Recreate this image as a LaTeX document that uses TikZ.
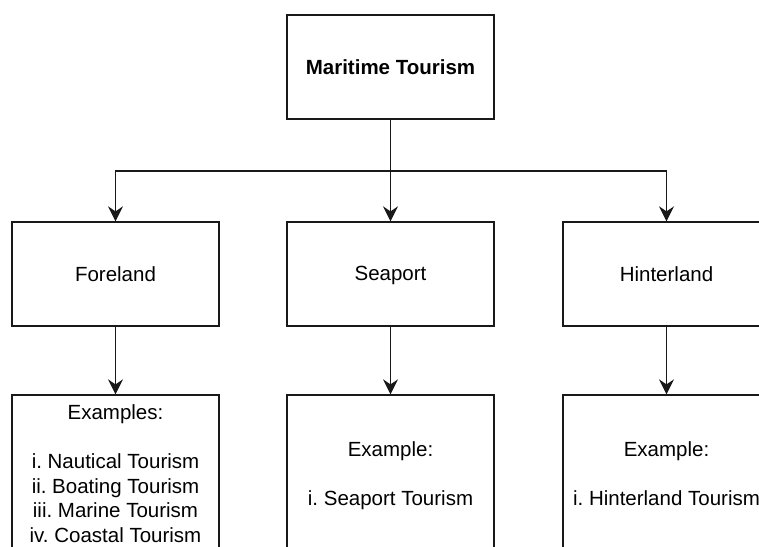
\documentclass[tikz,border=0pt]{standalone}
\usepackage{fontspec}
\setmainfont{Liberation Sans}
\usetikzlibrary{arrows.meta}
\frenchspacing
% fixed first-line height and last-line depth for the example lists
\newcommand{\toprow}{\rule{0pt}{24pt}}
\newcommand{\lastrow}{\rule[-7pt]{0pt}{7pt}}
\begin{document}
\begin{tikzpicture}[x=1pt,y=-1pt,
  box/.style={draw=black!90,line width=1.3pt,minimum width=207pt,inner sep=0pt,align=center,
    font=\fontsize{20.5}{24.6}\selectfont},
  headbox/.style={box,minimum height=104pt},
  listbox/.style={box,minimum height=155pt},
  link/.style={draw=black!90,line width=1.3pt,-{Stealth[length=15pt,width=15pt,inset=5pt]}}]
\clip (0,0) rectangle (759,546);
\useasboundingbox (0,0) rectangle (759,546);

% top level
\node[headbox,font=\fontsize{20.5}{24.6}\selectfont\bfseries] (top) at (390.5,67) {Maritime Tourism};

% second level
\node[headbox] (fore) at (115.5,274) {Foreland};
\node[headbox,text depth=0.22em] (sea)  at (390.5,274) {Seaport};
\node[headbox] (hint) at (666.5,274) {Hinterland};

% examples
\node[listbox] (forex) at (115.5,472.5) {\toprow Examples:\\[24.6pt]i. Nautical Tourism\\ii. Boating Tourism\\iii. Marine Tourism\\iv. Coastal Tourism\lastrow};
\node[listbox] (seaex) at (390.5,472.5) {\toprow Example:\\[24.6pt]i. Seaport Tourism\lastrow};
\node[listbox] (hintex) at (666.5,472.5) {\toprow Example:\\[24.6pt]i. Hinterland Tourism\lastrow};

% connectors
\coordinate (split) at (390.5,171);
\draw[link] (top.south) -- (sea.north);
\draw[link] (split) -| (fore.north);
\draw[link] (split) -| (hint.north);
\draw[link] (fore.south) -- (forex.north);
\draw[link] (sea.south) -- (seaex.north);
\draw[link] (hint.south) -- (hintex.north);
\end{tikzpicture}
\end{document}
